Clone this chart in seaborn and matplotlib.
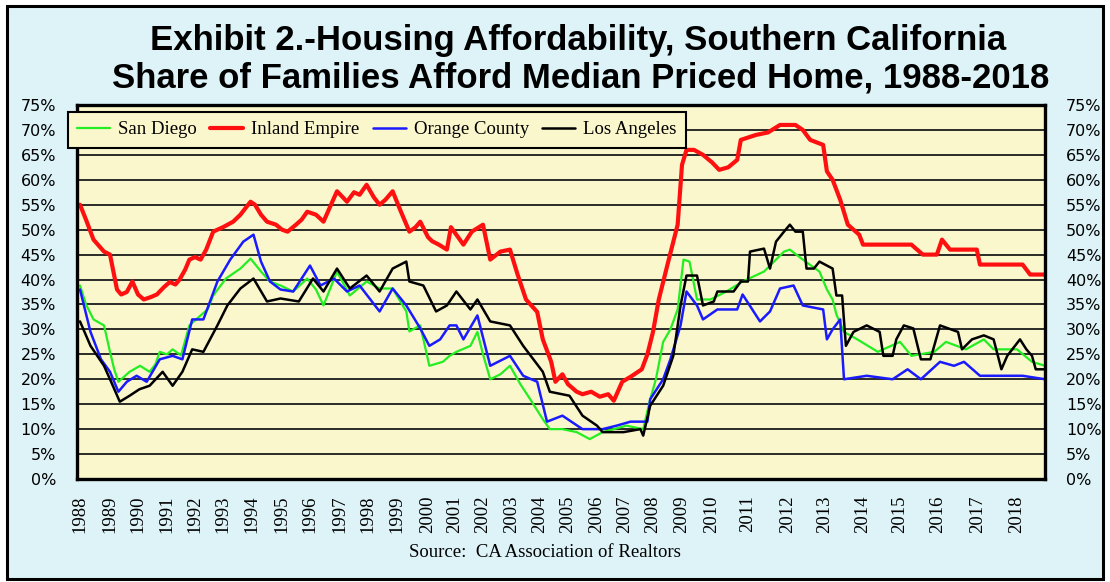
import numpy as np
import pandas as pd
import matplotlib
matplotlib.use('Agg')
import matplotlib.pyplot as plt
import seaborn as sns
from matplotlib.patches import Rectangle

# --- data (decimal year, % of families) ---
sd_years = [1988.0, 1988.2, 1988.45, 1988.8, 1989.0, 1989.15, 1989.3, 1989.5, 1989.7, 1990.07,
            1990.4, 1990.6, 1990.75, 1991.0, 1991.2, 1991.5, 1991.8, 1992.2, 1992.45, 1992.65,
            1993.1, 1993.6, 1993.95, 1994.3, 1994.6, 1994.95, 1995.4, 1995.9, 1996.2, 1996.45,
            1996.9, 1997.35, 1997.95, 1998.4, 1998.85, 1999.3, 1999.4, 1999.75, 2000.05, 2000.55,
            2000.8, 2001.05, 2001.55, 2001.8, 2002.0, 2002.25, 2002.6, 2002.93, 2003.3, 2003.65,
            2004.1, 2004.35, 2004.8, 2005.3, 2005.75, 2006.2, 2006.6, 2007.05, 2007.65, 2007.9,
            2008.1, 2008.35, 2008.6, 2008.85, 2009.05, 2009.25, 2009.5, 2009.95, 2010.4, 2010.85,
            2011.4, 2011.9, 2012.05, 2012.4, 2012.85, 2013.05, 2013.2, 2013.3, 2013.5, 2013.85,
            2014.4, 2015.0, 2015.3, 2015.9, 2016.2, 2016.7, 2017.15, 2017.4, 2018.0, 2018.4, 2018.75]
sd_vals = [38.8, 35, 32, 30.8, 25.5, 22, 19.5, 20.5, 21.5, 22.7,
           21.5, 23, 25.5, 25, 26, 24.8, 30.8, 32.8, 34, 36.8,
           40.2, 42.2, 44.2, 41.6, 39.6, 38.8, 37.6, 40.2, 38, 34.8,
           41.6, 36.8, 39.6, 38.2, 38.2, 33.6, 29.6, 30.8, 22.7, 23.5,
           24.7, 25.5, 26.7, 29.5, 25, 20, 21, 22.7, 19, 16,
           12, 10, 10, 9.4, 8, 9.4, 10, 10.7, 10, 16,
           20, 27.5, 30, 34, 44, 43.6, 36, 36, 37.6, 39.6,
           41.6, 45.6, 46, 44, 41.6, 38, 36, 33, 29.5, 28,
           25.5, 27.5, 24.7, 25.5, 27.5, 26, 28, 26, 26, 23.5, 22.7]

ie_years = [1988.0, 1988.2, 1988.45, 1988.8, 1989.0, 1989.25, 1989.4, 1989.6, 1989.8, 1990.0,
            1990.2, 1990.45, 1990.65, 1990.9, 1991.1, 1991.3, 1991.45, 1991.65, 1991.8, 1992.0,
            1992.2, 1992.4, 1992.65, 1993.0, 1993.35, 1993.6, 1993.8, 1993.95, 1994.1, 1994.3,
            1994.5, 1994.8, 1995.0, 1995.2, 1995.5, 1995.7, 1995.9, 1996.2, 1996.45, 1996.7,
            1996.9, 1997.1, 1997.25, 1997.5, 1997.7, 1997.95, 1998.2, 1998.4, 1998.6, 1998.85,
            1999.1, 1999.4, 1999.6, 1999.75, 2000.0, 2000.15, 2000.4, 2000.7, 2000.85, 2001.3,
            2001.6, 2002.0, 2002.25, 2002.6, 2002.93, 2003.2, 2003.5, 2003.9, 2004.1, 2004.4,
            2004.55, 2004.8, 2005.0, 2005.3, 2005.5, 2005.8, 2006.1, 2006.4, 2006.6, 2006.9,
            2007.2, 2007.6, 2007.8, 2008.0, 2008.2, 2008.5, 2008.85, 2009.0, 2009.15, 2009.4,
            2009.7, 2010.0, 2010.2, 2010.45, 2010.7, 2010.8, 2011.2, 2011.5, 2011.8, 2012.2,
            2012.4, 2012.6, 2012.95, 2013.05, 2013.2, 2013.4, 2013.6, 2013.9, 2014.0, 2015.3,
            2015.6, 2015.97, 2016.1, 2016.3, 2016.97, 2017.05, 2018.15, 2018.35, 2018.75]
ie_vals = [55, 52, 48, 45.6, 45, 38, 37, 37.5, 39.6, 37,
           36, 36.5, 37, 38.5, 39.5, 39, 40, 42, 44, 44.5,
           44, 46, 49.6, 50.5, 51.6, 53, 54.5, 55.6, 55, 53,
           51.6, 51, 50, 49.6, 51, 52, 53.6, 53, 51.6, 55,
           57.7, 56.5, 55.6, 57.5, 57, 59, 56.5, 55, 56, 57.7,
           54, 49.6, 50.5, 51.6, 48.5, 47.7, 47, 46, 50.5, 47,
           49.6, 51, 44, 45.6, 46, 41, 36, 33.5, 28, 23.5,
           19.5, 21, 19, 17.5, 17, 17.5, 16.5, 17, 15.7, 19.5,
           20.5, 22, 25, 29.5, 36, 43, 51, 63, 66, 66,
           65, 63.5, 62, 62.5, 64, 68, 69, 69.5, 71, 71,
           70, 68, 67, 61.7, 60, 56, 51, 49, 47, 47,
           45, 45, 48, 46, 46, 43, 43, 41, 41]

oc_years = [1988.0, 1988.35, 1988.7, 1989.0, 1989.3, 1989.6, 1989.95, 1990.3, 1990.75, 1991.2,
            1991.55, 1991.9, 1992.3, 1992.8, 1993.25, 1993.7, 1994.05, 1994.3, 1994.6, 1994.95,
            1995.4, 1996.0, 1996.35, 1996.8, 1997.25, 1997.7, 1998.4, 1998.85, 1999.3, 1999.75,
            2000.05, 2000.45, 2000.8, 2001.05, 2001.3, 2001.8, 2002.25, 2002.93, 2003.4, 2003.9,
            2004.25, 2004.8, 2005.5, 2006.2, 2006.7, 2007.2, 2007.8, 2007.9, 2008.35, 2008.6,
            2008.95, 2009.15, 2009.5, 2009.7, 2010.15, 2010.7, 2010.85, 2011.3, 2011.55, 2011.8,
            2012.15, 2012.4, 2012.95, 2013.05, 2013.2, 2013.4, 2013.5, 2014.1, 2014.8, 2015.2,
            2015.55, 2016.05, 2016.4, 2016.65, 2017.05, 2018.15, 2018.75]
oc_vals = [38, 29.5, 24, 21.5, 17.5, 19.5, 20.7, 19.5, 24, 24.7,
           24, 32, 32, 39.6, 44, 47.6, 49, 43.6, 39.6, 38,
           37.6, 42.8, 38.8, 40.2, 37.6, 38.8, 33.6, 38.2, 34.8, 30.2,
           26.7, 28, 30.8, 30.8, 28, 32.8, 22.7, 24.7, 20.7, 19.5,
           11.5, 12.7, 10, 10, 10.7, 11.5, 11.5, 16, 20, 24,
           30.8, 37.6, 34.8, 32, 34, 34, 37, 31.6, 33.6, 38.2,
           38.8, 34.8, 34, 28, 30, 32, 20, 20.7, 20, 22,
           20, 23.5, 22.7, 23.5, 20.7, 20.7, 20]

la_years = [1988.0, 1988.35, 1988.8, 1989.0, 1989.35, 1989.7, 1990.05, 1990.4, 1990.85, 1991.2,
            1991.55, 1991.9, 1992.3, 1992.8, 1993.15, 1993.6, 1994.05, 1994.5, 1994.95, 1995.6,
            1996.1, 1996.45, 1996.9, 1997.35, 1997.95, 1998.4, 1998.85, 1999.3, 1999.4, 1999.85,
            2000.3, 2000.7, 2001.05, 2001.55, 2001.8, 2002.25, 2002.93, 2003.4, 2004.1, 2004.35,
            2005.05, 2005.5, 2006.0, 2006.2, 2006.95, 2007.55, 2007.65, 2007.9, 2008.35, 2008.7,
            2008.95, 2009.15, 2009.5, 2009.7, 2010.05, 2010.15, 2010.6, 2010.8, 2011.0, 2011.05,
            2011.4, 2011.55, 2011.7, 2011.9, 2012.05, 2012.2, 2012.4, 2012.5, 2012.7, 2012.85,
            2013.05, 2013.2, 2013.3, 2013.45, 2013.55, 2013.75, 2014.1, 2014.45, 2014.55, 2014.8,
            2014.9, 2015.1, 2015.35, 2015.55, 2015.8, 2015.9, 2016.05, 2016.5, 2016.6, 2016.85,
            2017.15, 2017.4, 2017.6, 2017.75, 2018.08, 2018.25, 2018.4, 2018.5, 2018.75]
la_vals = [31.6, 26.7, 22.7, 20, 15.5, 16.7, 18, 18.7, 21.5, 18.7,
           21.5, 26, 25.5, 30.8, 34.8, 38.2, 40.2, 35.6, 36.2, 35.6,
           40.2, 37.6, 42.2, 38.2, 40.8, 37.6, 42.2, 43.6, 39.6, 38.8,
           33.6, 34.8, 37.6, 34, 36, 31.6, 30.8, 26.7, 21.5, 17.5,
           16.7, 12.7, 10.7, 9.4, 9.4, 10, 8.7, 14.7, 18.7, 24.7,
           34.8, 40.8, 40.8, 34.8, 35.6, 37.6, 37.6, 39.6, 39.6, 45.6,
           46.2, 42.2, 47.6, 49.6, 51, 49.6, 49.6, 42.2, 42.2, 43.6,
           42.8, 42.2, 36.8, 36.8, 26.7, 29.5, 30.8, 29.5, 24.7, 24.7,
           28, 30.8, 30.2, 24, 24, 26.7, 30.8, 29.5, 26, 28,
           28.8, 28, 22, 24.7, 28, 26, 24.7, 22, 22]

regions = ['San Diego', 'Inland Empire', 'Orange County', 'Los Angeles']
colors = {'San Diego': '#22EE22', 'Inland Empire': '#FF1010',
          'Orange County': '#1A1AFF', 'Los Angeles': '#000000'}
widths = {'San Diego': 1.6, 'Inland Empire': 3.0, 'Orange County': 1.8, 'Los Angeles': 1.8}

tick_years = list(range(1988, 2019))

# the original axis is not linear in time: later years get wider slots
slot_years = [1900] + tick_years + [2019, 2100]
slot_pos = [80 - 88 * 28.5] + [80, 110, 138, 167, 195, 223, 252, 282, 310, 340, 368, 397, 428, 455,
                                483, 512, 540, 568, 597, 625, 653, 682, 712, 748, 788, 825, 863,
                                900, 938, 978, 1017] + [1054.5, 1054.5 + 81 * 37.5]


def fwd(x):
    return np.interp(x, slot_years, slot_pos)


def inv(p):
    return np.interp(p, slot_pos, slot_years)


frames = []
for name, yrs, vals in [('San Diego', sd_years, sd_vals), ('Inland Empire', ie_years, ie_vals),
                        ('Orange County', oc_years, oc_vals), ('Los Angeles', la_years, la_vals)]:
    frames.append(pd.DataFrame({'year': yrs, 'share': vals, 'region': name}))
df = pd.concat(frames, ignore_index=True)

sns.set_style('white')
plt.rcParams['text.color'] = 'black'
plt.rcParams['xtick.color'] = 'black'
plt.rcParams['ytick.color'] = 'black'

fig = plt.figure(figsize=(11.1, 5.82), dpi=100, facecolor='white')
fig.patches.append(Rectangle((0.006, 0.006), 0.988, 0.984, transform=fig.transFigure,
                             facecolor='#DDF3F8', edgecolor='black', lw=2.2, zorder=-1))
ax = fig.add_axes([77 / 1110, 1 - 479 / 582, (1045 - 77) / 1110, (479 - 105) / 582])
ax.set_facecolor('#FBF7CC')

for name in regions:
    sub = df[df['region'] == name]
    sns.lineplot(data=sub, x='year', y='share', ax=ax, color=colors[name], lw=widths[name],
                 label=name, estimator=None, sort=False)

ax.set_xscale('function', functions=(fwd, inv))
ax.set_xlim(inv(77), inv(1045))
ax.set_ylim(0, 75)
ax.set_yticks(range(0, 80, 5))
ax.set_yticklabels([f'{v}%' for v in range(0, 80, 5)], fontsize=11.5, family='DejaVu Sans')
for v in range(5, 75, 5):
    ax.axhline(v, color='#1a1a1a', lw=1.3, zorder=0.5)
ax.set_xticks(tick_years)
ax.set_xticklabels([str(y) for y in tick_years], rotation=90, fontsize=13.5,
                   family='Liberation Serif')
ax.tick_params(axis='x', length=0, pad=12)
ax.tick_params(axis='y', length=0, pad=15, labelright=True)
ax.set_xlabel('')
ax.set_ylabel('')
for s in ax.spines.values():
    s.set_color('black')
    s.set_linewidth(2.4)

leg = ax.legend(loc='upper left', bbox_to_anchor=(68 / 1110, 1 - 112 / 582),
                bbox_transform=fig.transFigure, ncol=4, frameon=True, fancybox=False,
                borderaxespad=0, prop={'family': 'Liberation Serif', 'size': 13.5},
                handlelength=1.76, columnspacing=0.7, handletextpad=0.43, borderpad=0.5)
leg.get_frame().set_facecolor('#FBF7CC')
leg.get_frame().set_edgecolor('black')
leg.get_frame().set_linewidth(1.5)
leg.get_frame().set_alpha(1)

fig.text(0.521, 0.931, 'Exhibit 2.-Housing Affordability, Southern California',
         ha='center', va='center', fontsize=25, fontweight='bold', family='Liberation Sans')
fig.text(0.523, 0.866, 'Share of Families Afford Median Priced Home, 1988-2018',
         ha='center', va='center', fontsize=25, fontweight='bold', family='Liberation Sans')
fig.text(0.491, 0.05, 'Source:  CA Association of Realtors', ha='center', va='center',
         fontsize=13.5, family='Liberation Serif')

fig.savefig('out.png', dpi=100, facecolor=fig.get_facecolor())
